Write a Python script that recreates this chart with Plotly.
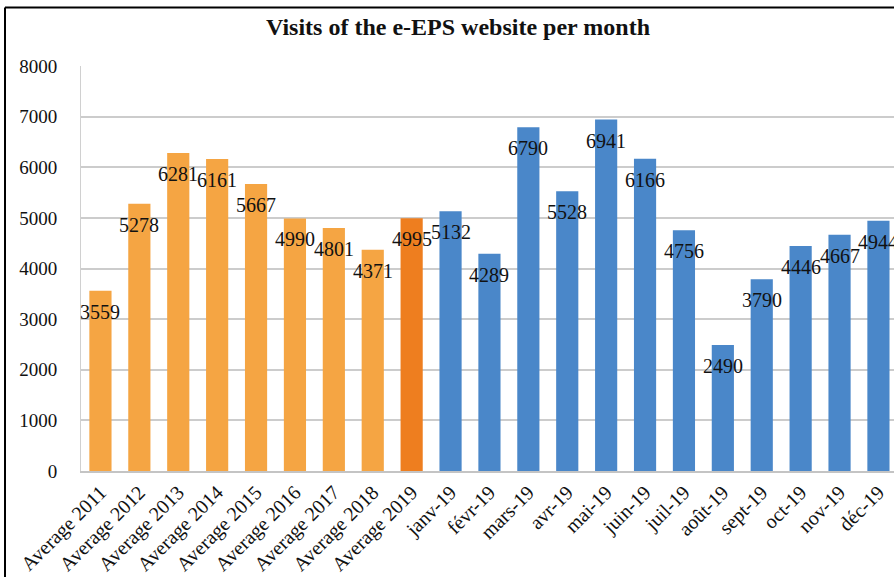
import plotly.graph_objects as go

categories = ["Average 2011", "Average 2012", "Average 2013", "Average 2014", "Average 2015",
              "Average 2016", "Average 2017", "Average 2018", "Average 2019",
              "janv-19", "févr-19", "mars-19", "avr-19", "mai-19", "juin-19", "juil-19",
              "août-19", "sept-19", "oct-19", "nov-19", "déc-19"]
visits = [3559, 5278, 6281, 6161, 5667, 4990, 4801, 4371, 4995,
          5132, 4289, 6790, 5528, 6941, 6166, 4756, 2490, 3790, 4446, 4667, 4944]
y_ticks = [0, 1000, 2000, 3000, 4000, 5000, 6000, 7000, 8000]
title_text = "Visits of the e-EPS website per month"

LIGHT_ORANGE = "#F5A543"
DARK_ORANGE = "#EE7E1F"
BLUE = "#4A87C9"

colors = []
for c in categories:
    if c == "Average 2019":
        colors.append(DARK_ORANGE)
    elif c.startswith("Average"):
        colors.append(LIGHT_ORANGE)
    else:
        colors.append(BLUE)

SERIF = "Liberation Serif, Times New Roman, serif"

fig = go.Figure()
fig.add_trace(go.Bar(x=categories, y=visits, marker=dict(color=colors, line=dict(width=0)),
                     hoverinfo="x+y"))

annotations = []
for c, v in zip(categories, visits):
    annotations.append(dict(x=c, y=v, xref="x", yref="y", text=str(v), showarrow=False,
                            yshift=-21, xanchor="center", yanchor="middle",
                            font=dict(family=SERIF, size=20, color="#111111")))
annotations.append(dict(x=(0.5 * (263 + 652) - 81) / 813, xref="paper", xanchor="center",
                        y=(471 - 27) / 405, yref="paper", yanchor="middle",
                        showarrow=False, text="<b>" + title_text + "</b>",
                        font=dict(family=SERIF, size=24, color="#111111")))

x_left = (5 - 81) / 813
y_top = (471 - 7.5) / 405
shapes = [
    dict(type="line", xref="paper", yref="paper", x0=x_left, x1=x_left, y0=-0.4, y1=y_top,
         line=dict(color="black", width=2)),
    dict(type="line", xref="paper", yref="paper", x0=x_left, x1=1.05, y0=y_top, y1=y_top,
         line=dict(color="black", width=2)),
]

fig.update_layout(
    width=894, height=577,
    margin=dict(l=81, r=0, t=66, b=106),
    paper_bgcolor="white", plot_bgcolor="white",
    bargap=0.43,
    showlegend=False,
    annotations=annotations,
    shapes=shapes,
    xaxis=dict(range=[-0.5, 20.4], tickangle=-45, automargin=False,
               tickfont=dict(family=SERIF, size=20, color="#111111"),
               showline=True, linecolor="#c4c4c4", linewidth=1.5,
               showgrid=False, ticks=""),
    yaxis=dict(range=[0, 8000], tickvals=y_ticks, ticktext=[str(t) for t in y_ticks],
               automargin=False,
               tickfont=dict(family=SERIF, size=19, color="#111111"),
               showgrid=True, gridcolor="#cccccc", gridwidth=1.5,
               showline=True, linecolor="#d0d0d0", linewidth=1,
               ticks="", ticklabelstandoff=19, zeroline=False),
)

fig.write_html("out.html", config={"displayModeBar": False},
               post_script="document.body.style.margin='0';document.body.style.overflow='hidden';")
